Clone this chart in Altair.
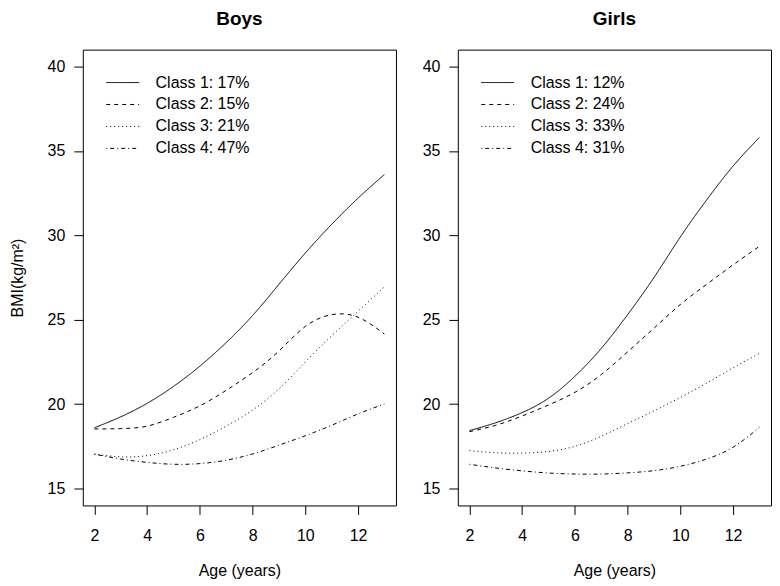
import altair as alt
import pandas as pd

ages = [2, 3, 4, 5, 6, 7, 8, 9, 10, 11, 12, 13]

boys_class1 = [18.6, 19.25, 20.05, 21.05, 22.25, 23.65, 25.25, 27.1, 28.95, 30.65, 32.2, 33.6]
boys_class2 = [18.53, 18.55, 18.7, 19.22, 19.9, 20.82, 21.87, 23.15, 24.6, 25.3, 25.15, 24.15]
boys_class3 = [17.04, 16.88, 16.95, 17.3, 17.9, 18.7, 19.65, 20.9, 22.5, 24.05, 25.5, 26.95]
boys_class4 = [17.04, 16.75, 16.55, 16.44, 16.48, 16.68, 17.05, 17.57, 18.13, 18.75, 19.42, 20.01]

girls_class1 = [18.43, 18.9, 19.5, 20.35, 21.65, 23.3, 25.3, 27.5, 29.9, 32.1, 34.1, 35.8]
girls_class2 = [18.37, 18.75, 19.3, 19.95, 20.7, 21.75, 23.1, 24.5, 25.9, 27.1, 28.25, 29.35]
girls_class3 = [17.25, 17.12, 17.1, 17.2, 17.5, 18.1, 18.85, 19.6, 20.4, 21.25, 22.15, 23.0]
girls_class4 = [16.44, 16.22, 16.05, 15.92, 15.86, 15.86, 15.93, 16.06, 16.32, 16.75, 17.45, 18.62]

boys_labels = ["Class 1: 17%", "Class 2: 15%", "Class 3: 21%", "Class 4: 47%"]
girls_labels = ["Class 1: 12%", "Class 2: 24%", "Class 3: 33%", "Class 4: 31%"]

x_ticks = [2, 4, 6, 8, 10, 12]
y_ticks = [15, 20, 25, 30, 35, 40]

dash_patterns = [[1, 0], [4, 4], [1, 3], [1, 3, 4, 3]]

FONT = "Liberation Sans"


def long_df(labels, series):
    rows = []
    for lab, vals in zip(labels, series):
        for a, v in zip(ages, vals):
            rows.append({"age": a, "bmi": v, "series": lab})
    return pd.DataFrame(rows)


boys_df = long_df(boys_labels, [boys_class1, boys_class2, boys_class3, boys_class4])
girls_df = long_df(girls_labels, [girls_class1, girls_class2, girls_class3, girls_class4])

common_axis = dict(domain=False, grid=False, tickColor="black", tickSize=9, tickWidth=1,
                   labelFont=FONT, labelFontSize=16, labelColor="black",
                   titleColor="black", titleFontSize=16, titleFontWeight="normal", titleFont=FONT)


def panel(df, labels, title, ytitle):
    if ytitle:
        yaxis = alt.Axis(title=ytitle, values=y_ticks, labelPadding=9, titlePadding=22, **common_axis)
    else:
        yaxis = alt.Axis(title=None, values=y_ticks, labelPadding=9, **common_axis)
    return alt.Chart(df).mark_line(color="black", strokeWidth=1, interpolate="natural").encode(
        x=alt.X("age:Q",
                scale=alt.Scale(domain=[1.56, 13.44], nice=False, zero=False),
                axis=alt.Axis(values=x_ticks, title="Age (years)", labelPadding=13,
                              titlePadding=19, **common_axis)),
        y=alt.Y("bmi:Q",
                scale=alt.Scale(domain=[14, 41], nice=False, zero=False),
                axis=yaxis),
        strokeDash=alt.StrokeDash("series:N",
                                  scale=alt.Scale(domain=labels, range=dash_patterns),
                                  legend=alt.Legend(title=None, orient="none", legendX=23, legendY=23,
                                                    symbolType="stroke", symbolSize=1089,
                                                    symbolStrokeColor="black", symbolStrokeWidth=1,
                                                    labelFont=FONT, labelFontSize=16, labelColor="black",
                                                    labelOffset=16, clipHeight=20, rowPadding=2,
                                                    padding=0)),
    ).properties(width=314, height=457,
                 title=alt.TitleParams(title, font=FONT, fontSize=19, fontWeight="bold",
                                       anchor="middle", frame="group", offset=21, color="black"))


chart = alt.hconcat(
    panel(boys_df, boys_labels, "Boys", "BMI(kg/m²)"),
    panel(girls_df, girls_labels, "Girls", None),
    spacing=24,
    background="white",
    padding={"left": 0, "top": 0, "right": 0, "bottom": 0},
).resolve_scale(strokeDash="independent").resolve_legend(strokeDash="independent").configure_view(
    stroke="black", strokeWidth=1
)

chart.save("out.html", embed_options={"renderer": "svg", "actions": False})
